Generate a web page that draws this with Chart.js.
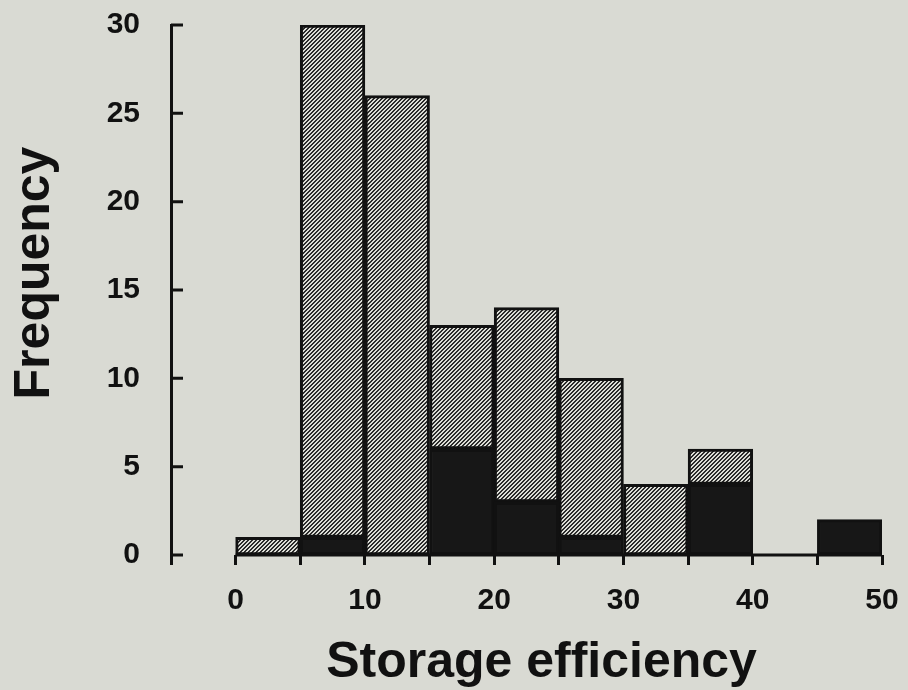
<!DOCTYPE html>
<html lang="en">
<head>
<meta charset="utf-8"/>
<title>Storage efficiency histogram</title>
<script src="https://cdn.jsdelivr.net/npm/chart.js"></script>
<style>
    body { margin: 0; background: #d9dad3; }
    #wrap { width: 908px; height: 690px; }
</style>
</head>
<body>
<div id="wrap"><canvas id="histChart"></canvas></div>
<script>
    // bins of width 5, from 0 to 50
    const binMids = [2.5, 7.5, 12.5, 17.5, 22.5, 27.5, 32.5, 37.5, 42.5, 47.5];
    const darkCounts = [0, 1, 0, 6, 3, 1, 0, 4, 0, 2];
    const hatchCounts = [1, 29, 26, 7, 11, 9, 4, 2, 0, 0];
    const xTicks = [0, 10, 20, 30, 40, 50];
    const xTitle = 'Storage efficiency';
    const yTitle = 'Frequency';

    const ink = '#111';
    const fontFamily = '"Liberation Sans", Arial, sans-serif';

    // "////" hatching tile
    function hatch() {
        const c = document.createElement('canvas');
        c.width = 4; c.height = 4;
        const g = c.getContext('2d');
        g.fillStyle = '#dcddd6';
        g.fillRect(0, 0, 4, 4);
        g.fillStyle = '#2a2a2a';
        for (let i = 0; i < 4; i++) {
            g.fillRect(i, 3 - i, 1, 1);
            g.fillRect((i + 1) % 4, 3 - i, 1, 1);
        }
        return g.createPattern(c, 'repeat');
    }

    const toPoints = arr => arr.map((v, i) => ({ x: binMids[i], y: v === 0 ? null : v }));

    // inward y ticks + baseline running 0..50 only
    const axisMarks = {
        id: 'axisMarks',
        afterDatasetsDraw(chart) {
            const { ctx, scales: { x, y } } = chart;
            ctx.save();
            ctx.strokeStyle = ink;
            ctx.lineWidth = 3;
            ctx.beginPath();
            y.ticks.forEach(t => {
                const py = y.getPixelForValue(t.value);
                ctx.moveTo(x.left, py);
                ctx.lineTo(x.left + 12, py);
            });
            const base = y.getPixelForValue(0);
            ctx.moveTo(x.getPixelForValue(xTicks[0]), base);
            ctx.lineTo(x.getPixelForValue(xTicks[xTicks.length - 1]), base);
            ctx.stroke();
            ctx.restore();
        }
    };

    // axis titles, a little off-centre like the original figure
    const axisTitles = {
        id: 'axisTitles',
        afterDraw(chart) {
            const { ctx, chartArea: a } = chart;
            ctx.save();
            ctx.fillStyle = ink;
            ctx.font = 'bold 50px ' + fontFamily;
            ctx.textAlign = 'center';
            ctx.textBaseline = 'alphabetic';
            ctx.fillText(xTitle, (a.left + a.right) / 2 + 15, a.bottom + 122);
            ctx.translate(49, (a.top + a.bottom) / 2 - 17);
            ctx.rotate(-Math.PI / 2);
            ctx.fillText(yTitle, 0, 0);
            ctx.restore();
        }
    };

    Chart.defaults.font.family = fontFamily;
    Chart.defaults.font.weight = 'bold';
    Chart.defaults.color = ink;

    new Chart(document.getElementById('histChart'), {
        type: 'bar',
        data: {
            datasets: [
                {
                    label: 'dark',
                    data: toPoints(darkCounts),
                    backgroundColor: '#171717',
                    borderColor: ink,
                    borderWidth: 3,
                    borderSkipped: false
                },
                {
                    label: 'hatched',
                    data: toPoints(hatchCounts),
                    backgroundColor: hatch(),
                    borderColor: ink,
                    borderWidth: 3,
                    borderSkipped: false
                }
            ]
        },
        plugins: [axisMarks, axisTitles],
        options: {
            responsive: true,
            maintainAspectRatio: false,
            animation: false,
            layout: { padding: 0 },
            datasets: { bar: { barPercentage: 1, categoryPercentage: 1 } },
            plugins: { legend: { display: false }, tooltip: { enabled: false } },
            scales: {
                x: {
                    type: 'linear',
                    stacked: true,
                    offset: false,
                    min: -5,
                    max: 50,
                    border: { display: false },
                    grid: { offset: false, drawOnChartArea: false, tickLength: 10, color: ink, lineWidth: 3 },
                    ticks: {
                        stepSize: 5,
                        padding: 18,
                        font: { size: 30 },
                        callback: v => xTicks.includes(v) ? String(v) : ''
                    },
                    afterFit(s) { s.height = 135; s.paddingLeft = 0; s.paddingRight = 26; }
                },
                y: {
                    stacked: true,
                    min: 0,
                    max: 30,
                    border: { display: true, color: ink, width: 3 },
                    grid: { display: false },
                    ticks: { stepSize: 5, padding: 23, font: { size: 30, lineHeight: 1 } },
                    afterFit(s) { s.width = 171; s.paddingTop = 25; s.paddingBottom = 0; }
                }
            }
        }
    });
</script>
</body>
</html>
